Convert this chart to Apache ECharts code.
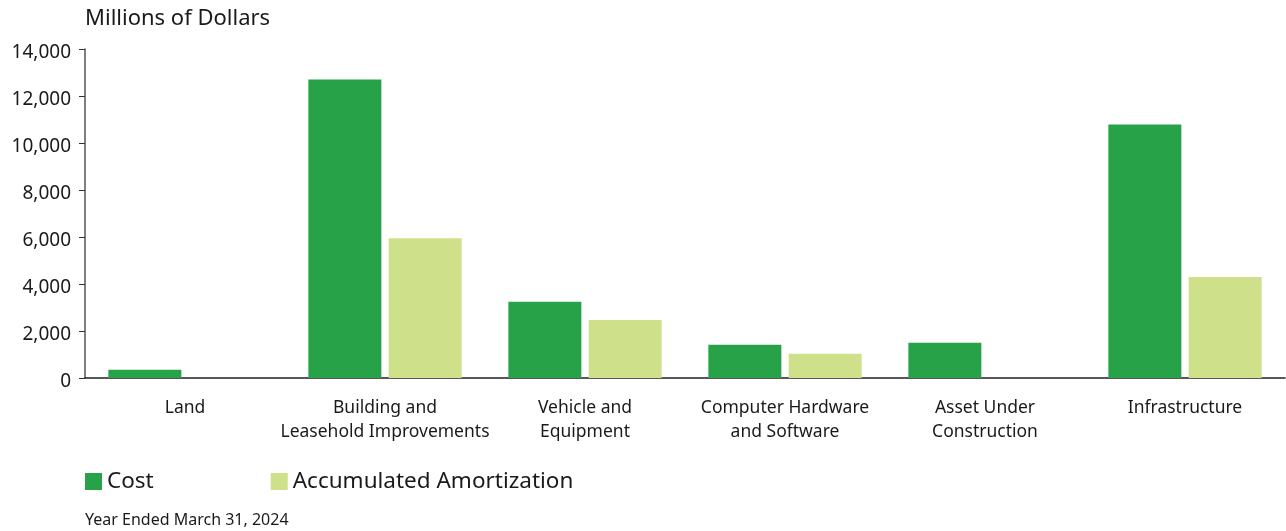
<!DOCTYPE html>
<html><head><meta charset="utf-8">
<script src="https://cdn.jsdelivr.net/npm/echarts@6/dist/echarts.min.js"></script>
<style>html,body{margin:0;padding:0;background:#fff}#c{width:1286px;height:531px}</style>
</head><body><div id="c"></div>
<script>
const categories = ['Land', 'Building and\nLeasehold Improvements', 'Vehicle and\nEquipment', 'Computer Hardware\nand Software', 'Asset Under\nConstruction', 'Infrastructure'];
const costValues = [350, 12700, 3240, 1410, 1500, 10790];
const amortValues = [0, 5950, 2470, 1030, 0, 4300];
const seriesNames = ['Cost', 'Accumulated Amortization'];

const chart = echarts.init(document.getElementById('c'), null, {renderer: 'canvas'});
const font = 'Noto Sans';
chart.setOption({
  animation: false,
  textStyle: {fontFamily: font},
  grid: {left: 85, right: 1, top: 49, bottom: 153},
  title: [
    {text: 'Millions of Dollars', left: 85, top: 8, padding: 0, textStyle: {fontFamily: font, fontSize: 22, fontWeight: 'normal', color: '#1a1a1a'}},
    {text: 'Year Ended March 31, 2024', left: 85, top: 512, padding: 0, textStyle: {fontFamily: font, fontSize: 16, fontWeight: 'normal', color: '#1a1a1a'}}
  ],
  legend: {
    left: 85, top: 470, padding: 0, itemWidth: 17, itemHeight: 17, itemGap: 117, icon: 'rect',
    textStyle: {fontFamily: font, fontSize: 22.5, color: '#1a1a1a'},
    data: seriesNames
  },
  xAxis: {
    type: 'category', data: categories,
    axisLine: {lineStyle: {color: '#222', width: 1.5}},
    axisTick: {alignWithLabel: true, length: 6, lineStyle: {color: '#333'}},
    axisLabel: {fontFamily: font, fontSize: 17.5, color: '#1a1a1a', margin: 18, lineHeight: 24, interval: 0}
  },
  yAxis: {
    type: 'value', min: 0, max: 14000, interval: 2000,
    axisLine: {show: true, lineStyle: {color: '#555', width: 1.5}},
    axisTick: {show: true, length: 6, lineStyle: {color: '#333'}},
    splitLine: {show: false},
    axisLabel: {fontFamily: font, fontSize: 19, color: '#1a1a1a', margin: 14,
      formatter: v => '{a|' + v.toLocaleString('en-US') + '}',
      rich: {a: {fontFamily: font, fontSize: 19, color: '#1a1a1a', padding: [8, 0, 0, 0]}}}
  },
  series: [
    {name: seriesNames[0], type: 'bar', data: costValues, barWidth: 73, barGap: '10%', itemStyle: {color: '#28a248'}},
    {name: seriesNames[1], type: 'bar', data: amortValues, barWidth: 73, itemStyle: {color: '#cfe08a'}}
  ]
});
</script></body></html>
